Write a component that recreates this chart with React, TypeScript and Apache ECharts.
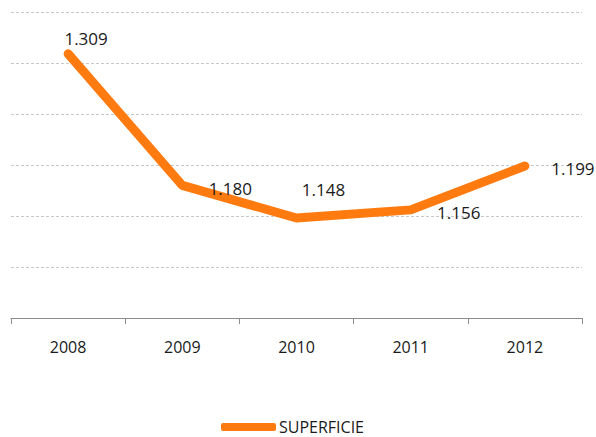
import React, { useEffect, useRef } from "react";
import * as echarts from "echarts";

const categories = ["2008", "2009", "2010", "2011", "2012"];
const values = [1.309, 1.18, 1.148, 1.156, 1.199];
const valueLabels = ["1.309", "1.180", "1.148", "1.156", "1.199"];
const labelOffsets: [number, number][] = [
  [18, -15],
  [48, 3],
  [27, -29],
  [48, 3],
  [48, 2],
];

const FONT = "'Open Sans', 'DejaVu Sans', sans-serif";

export default function App() {
  const ref = useRef<HTMLDivElement>(null);
  useEffect(() => {
    document.body.style.margin = "0";
    if (!ref.current) return;
    const chart = echarts.init(ref.current, null, { renderer: "svg" });
    chart.setOption({
      animation: false,
      backgroundColor: "#ffffff",
      grid: { left: 11, right: 14, top: 12, bottom: 119, containLabel: false },
      legend: {
        top: 419,
        left: 221,
        itemWidth: 55,
        itemHeight: 8,
        itemGap: 4,
        padding: 0,
        textStyle: { fontFamily: FONT, fontSize: 16, color: "#1a1a1a", padding: [0, 0, 0, -2] },
        data: [{ name: "SUPERFICIE", icon: "roundRect" }],
      },
      xAxis: {
        type: "category",
        data: categories,
        boundaryGap: true,
        axisLine: { lineStyle: { color: "#8c8c8c", width: 1 } },
        axisTick: { show: true, length: 6, lineStyle: { color: "#8c8c8c" } },
        axisLabel: { margin: 21, fontFamily: FONT, fontSize: 16, color: "#1a1a1a" },
      },
      yAxis: {
        type: "value",
        min: 1.05,
        max: 1.35,
        interval: 0.05,
        axisLine: { show: false },
        axisTick: { show: false },
        axisLabel: { show: false },
        splitLine: { lineStyle: { color: "#c8c8c8", type: [3, 2], width: 1 } },
      },
      series: [
        {
          name: "SUPERFICIE",
          type: "line",
          data: values.map((v, i) => ({
            value: v,
            label: {
              show: true,
              position: "inside",
              align: "center",
              verticalAlign: "middle",
              offset: labelOffsets[i],
              formatter: valueLabels[i],
            },
          })),
          symbol: "circle",
          symbolSize: 2,
          showSymbol: true,
          itemStyle: { color: "#ff7b0f" },
          lineStyle: { color: "#ff7b0f", width: 9, cap: "round", join: "round" },
          label: {
            fontFamily: FONT,
            fontSize: 17,
            color: "#1a1a1a",
          },
        },
      ],
    });
    return () => chart.dispose();
  }, []);
  return <div ref={ref} style={{ width: 596, height: 437 }} />;
}
